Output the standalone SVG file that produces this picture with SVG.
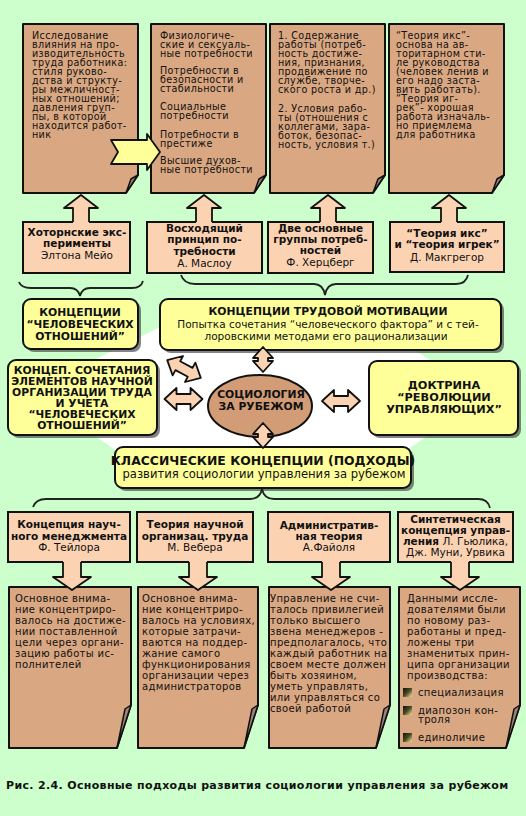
<svg xmlns="http://www.w3.org/2000/svg" width="526" height="816" viewBox="0 0 526 816">
<defs>
<style>
text{font-family:"DejaVu Sans",Verdana,sans-serif;fill:#111}
.n{font-size:10px;letter-spacing:0.35px}
.t{font-size:9.6px;letter-spacing:0.35px}
.b{font-size:10.5px;font-weight:bold}
.l{font-size:10.5px}
.y{font-size:10.8px;font-weight:bold}
.c{text-anchor:middle}
.note{fill:#d9a781;stroke:#111;stroke-width:2;stroke-linejoin:round}
.fold{fill:#a0827b;stroke:#111;stroke-width:1.5;stroke-linejoin:round}
.lab{fill:#fcd3b2;stroke:#111;stroke-width:2}
.yel{fill:#ffff99;stroke:#111;stroke-width:2}
.sh{fill:#333;opacity:.6}
.ar{fill:#fcd3b2;stroke:#111;stroke-width:1.8;stroke-linejoin:round}
.arf{fill:#fcd3b2;stroke:none}
.aro{fill:none;stroke:#111;stroke-width:1.8;stroke-linejoin:round}
.brace{fill:none;stroke:#222;stroke-width:1.8}
</style>
<path id="dblH" d="M-19,0 L-7,-11 L-7,-5 L7,-5 L7,-11 L19,0 L7,11 L7,5 L-7,5 L-7,11 Z"/>
<path id="dblV" d="M0,-12.5 L10,-1.5 L5,-1.5 L5,1.5 L10,1.5 L0,12.5 L-10,1.5 L-5,1.5 L-5,-1.5 L-10,-1.5 Z"/>
<linearGradient id="bul" x1="0" y1="0" x2="1" y2="1">
<stop offset="0" stop-color="#111"/><stop offset="0.5" stop-color="#4a4a20"/><stop offset="1" stop-color="#f0e6a0"/>
</linearGradient>
</defs>
<rect width="526" height="816" fill="#ccffcc"/>

<!-- white background octagon -->
<polygon points="170,322 373,322 485,397 392,460 130,460 50,405 50,382" fill="#fff"/>

<!-- top notes -->
<g id="note1">
<path class="note" d="M23,24 H138 V175 L126,193 H23 Z"/>
<path class="fold" d="M138,175 L131,179 L126,193 Z"/>
<text class="t"><tspan x="32" y="39">Исследование</tspan><tspan x="32" y="48">влияния на про-</tspan><tspan x="32" y="57">изводительность</tspan><tspan x="32" y="66">труда работника:</tspan><tspan x="32" y="75">стиля руково-</tspan><tspan x="32" y="84">дства и структу-</tspan><tspan x="32" y="93">ры межличност-</tspan><tspan x="32" y="102">ных отношений;</tspan><tspan x="32" y="111">давления груп-</tspan><tspan x="32" y="120">пы, в которой</tspan><tspan x="32" y="129">находится работ-</tspan><tspan x="32" y="138">ник</tspan></text>
</g>
<g id="note2">
<path class="note" d="M151,24 H266 V175 L254,193 H151 Z"/>
<path class="fold" d="M266,175 L259,179 L254,193 Z"/>
<text class="t"><tspan x="160" y="39">Физиологиче-</tspan><tspan x="160" y="48">ские и сексуаль-</tspan><tspan x="160" y="57">ные потребности</tspan><tspan x="160" y="74">Потребности в</tspan><tspan x="160" y="83">безопасности и</tspan><tspan x="160" y="92">стабильности</tspan><tspan x="160" y="110">Социальные</tspan><tspan x="160" y="119">потребности</tspan><tspan x="160" y="138">Потребности в</tspan><tspan x="160" y="147">престиже</tspan><tspan x="160" y="164">Высшие  духов-</tspan><tspan x="160" y="173">ные  потребности</tspan></text>
</g>
<g id="note3">
<path class="note" d="M270,24 H385 V175 L373,193 H270 Z"/>
<path class="fold" d="M385,175 L378,179 L373,193 Z"/>
<text class="t"><tspan x="278" y="39">1. Содержание</tspan><tspan x="278" y="48">работы (потреб-</tspan><tspan x="278" y="57">ность достиже-</tspan><tspan x="278" y="66">ния, признания,</tspan><tspan x="278" y="75">продвижение по</tspan><tspan x="278" y="84">службе, творче-</tspan><tspan x="278" y="93">ского роста и др.)</tspan><tspan x="278" y="112">2. Условия рабо-</tspan><tspan x="278" y="121">ты (отношения с</tspan><tspan x="278" y="130">коллегами, зара-</tspan><tspan x="278" y="139">боток, безопас-</tspan><tspan x="278" y="148">ность, условия т.)</tspan></text>
</g>
<g id="note4">
<path class="note" d="M389,24 H504 V175 L492,193 H389 Z"/>
<path class="fold" d="M504,175 L497,179 L492,193 Z"/>
<text class="t"><tspan x="396" y="39">“Теория икс”-</tspan><tspan x="396" y="48">основа на ав-</tspan><tspan x="396" y="57">торитарном сти-</tspan><tspan x="396" y="66">ле руководства</tspan><tspan x="396" y="75">(человек ленив и</tspan><tspan x="396" y="84">его надо заста-</tspan><tspan x="396" y="93">вить работать).</tspan><tspan x="396" y="102">“Теория иг-</tspan><tspan x="396" y="111">рек”- хорошая</tspan><tspan x="396" y="120">работа изначаль-</tspan><tspan x="396" y="129">но приемлема</tspan><tspan x="396" y="138">для работника</tspan></text>
</g>

<!-- label boxes top -->
<g id="label1">
<rect class="lab" x="23" y="222" width="107" height="51"/>
<text class="b c"><tspan x="77" y="236">Хоторнские экс-</tspan><tspan x="77" y="247">перименты</tspan></text>
<text class="l c" x="77" y="259">Элтона Мейо</text>
</g>
<g id="label2">
<rect class="lab" x="147" y="222" width="115" height="51"/>
<text class="b c"><tspan x="204.5" y="232">Восходящий</tspan><tspan x="204.5" y="243">принцип по-</tspan><tspan x="204.5" y="255">требности</tspan></text>
<text class="l c" x="204.5" y="267">А. Маслоу</text>
</g>
<g id="label3">
<rect class="lab" x="268" y="222" width="105" height="51"/>
<text class="b c"><tspan x="320.5" y="232">Две основные</tspan><tspan x="320.5" y="243">группы потреб-</tspan><tspan x="320.5" y="254">ностей</tspan></text>
<text class="l c" x="320.5" y="266">Ф. Херцберг</text>
</g>
<g id="label4">
<rect class="lab" x="390" y="222" width="114" height="50"/>
<text class="b c"><tspan x="447" y="237">“Теория икс”</tspan><tspan x="447" y="248">и “теория игрек”</tspan></text>
<text class="l c" x="447" y="261">Д. Макгрегор</text>
</g>

<!-- yellow concept boxes -->
<g id="human">
<rect class="sh" x="26" y="302" width="115" height="50" rx="8"/>
<rect class="yel" x="23" y="299" width="115" height="50" rx="8"/>
<text class="y c"><tspan x="80" y="316">КОНЦЕПЦИИ</tspan><tspan x="80" y="328">“ЧЕЛОВЕЧЕСКИХ</tspan><tspan x="80" y="340">ОТНОШЕНИЙ”</tspan></text>
</g>
<g id="motivation">
<rect class="sh" x="163" y="302" width="341" height="51" rx="8"/>
<rect class="yel" x="160" y="299" width="341" height="51" rx="8"/>
<text class="y c" x="328" y="315">КОНЦЕПЦИИ ТРУДОВОЙ МОТИВАЦИИ</text>
<text class="l c"><tspan x="328" y="328">Попытка сочетания “человеческого фактора” и с тей-</tspan><tspan x="326" y="340">лоровскими методами его рационализации</tspan></text>
</g>
<g id="combined">
<rect class="sh" x="11" y="363" width="149" height="75" rx="8"/>
<rect class="yel" x="8" y="360" width="149" height="75" rx="8"/>
<text class="y c"><tspan x="82" y="374">КОНЦЕП. СОЧЕТАНИЯ</tspan><tspan x="82" y="385">ЭЛЕМЕНТОВ НАУЧНОЙ</tspan><tspan x="82" y="396">ОРГАНИЗАЦИИ ТРУДА</tspan><tspan x="82" y="407">И УЧЕТА</tspan><tspan x="82" y="418">“ЧЕЛОВЕЧЕСКИХ</tspan><tspan x="82" y="429">ОТНОШЕНИЙ”</tspan></text>
</g>
<g id="doctrine">
<rect class="sh" x="372" y="364" width="149" height="74" rx="8"/>
<rect class="yel" x="369" y="361" width="149" height="74" rx="8"/>
<text class="y c" style="font-size:11.3px"><tspan x="444" y="389">ДОКТРИНА</tspan><tspan x="444" y="401">“РЕВОЛЮЦИИ</tspan><tspan x="444" y="413">УПРАВЛЯЮЩИХ”</tspan></text>
</g>
<g id="classic">
<rect class="sh" x="118" y="450" width="296" height="41" rx="8"/>
<rect class="yel" x="115" y="447" width="296" height="41" rx="8"/>
<text class="c" x="263" y="465" style="font-size:12.4px;font-weight:bold">КЛАССИЧЕСКИЕ КОНЦЕПЦИИ (ПОДХОДЫ)</text>
<text class="c" x="264" y="478" style="font-size:11.6px">развития социологии управления за рубежом</text>
</g>
<g id="center">
<ellipse cx="260" cy="406" rx="52" ry="31" fill="#d29c76" stroke="#111" stroke-width="2"/>
<text class="c" x="261" y="398" style="font-size:10.8px;font-weight:bold">СОЦИОЛОГИЯ</text>
<text class="c" x="261" y="410" style="font-size:10.8px;font-weight:bold">ЗА РУБЕЖОМ</text>
</g>

<!-- bottom label boxes -->
<g id="taylor">
<rect class="lab" x="8" y="512" width="122" height="50"/>
<text class="b c"><tspan x="69" y="528">Концепция науч-</tspan><tspan x="69" y="540">ного менеджмента</tspan></text>
<text class="l c" x="69" y="551">Ф. Тейлора</text>
</g>
<g id="weber">
<rect class="lab" x="137" y="512" width="116" height="50"/>
<text class="b c"><tspan x="195" y="528">Теория научной</tspan><tspan x="195" y="540">организац. труда</tspan></text>
<text class="l c" x="195" y="551">М. Вебера</text>
</g>
<g id="fayol">
<rect class="lab" x="268" y="512" width="122" height="50"/>
<text class="b c"><tspan x="329" y="529">Административ-</tspan><tspan x="329" y="540">ная теория</tspan></text>
<text class="l c" x="329" y="551">А.Файоля</text>
</g>
<g id="gulick">
<rect class="lab" x="398" y="512" width="115" height="50"/>
<text class="b c"><tspan x="455.5" y="523">Синтетическая</tspan><tspan x="455.5" y="534">концепция управ-</tspan></text>
<text class="l c" x="455.5" y="545"><tspan style="font-weight:bold">ления</tspan> Л. Гьюлика,</text>
<text class="l c" x="455.5" y="556">Дж. Муни, Урвика</text>
</g>

<!-- bottom notes -->
<g id="note5">
<path class="note" d="M9,587 H131 V705 L117,748 H9 Z"/>
<path class="fold" d="M131,705 L125,709 L117,748 Z"/>
<text class="n"><tspan x="15" y="601.5">Основное внима-</tspan><tspan x="15" y="612.5">ние концентриро-</tspan><tspan x="15" y="623.5">валось на достиже-</tspan><tspan x="15" y="634.5">нии поставленной</tspan><tspan x="15" y="645.5">цели через органи-</tspan><tspan x="15" y="656.5">зацию работы ис-</tspan><tspan x="15" y="667.5">полнителей</tspan></text>
</g>
<g id="note6">
<path class="note" d="M138,587 H258 V705 L244,748 H138 Z"/>
<path class="fold" d="M258,705 L252,709 L244,748 Z"/>
<text class="n"><tspan x="142" y="601.5">Основное внима-</tspan><tspan x="142" y="612.5">ние концентриро-</tspan><tspan x="142" y="623.5">валось на условиях,</tspan><tspan x="142" y="634.5">которые затрачи-</tspan><tspan x="142" y="645.5">ваются на поддер-</tspan><tspan x="142" y="656.5">жание самого</tspan><tspan x="142" y="667.5">функционирования</tspan><tspan x="142" y="678.5">организации через</tspan><tspan x="142" y="689.5">администраторов</tspan></text>
</g>
<g id="note7">
<path class="note" d="M269,587 H390 V705 L376,748 H269 Z"/>
<path class="fold" d="M390,705 L384,709 L376,748 Z"/>
<text class="n"><tspan x="270" y="601.5">Управление не счи-</tspan><tspan x="270" y="612.5">талось привилегией</tspan><tspan x="270" y="623.5">только высшего</tspan><tspan x="270" y="634.5">звена менеджеров -</tspan><tspan x="270" y="645.5">предполагалось, что</tspan><tspan x="270" y="656.5">каждый работник на</tspan><tspan x="270" y="667.5">своем месте должен</tspan><tspan x="270" y="678.5">быть хозяином,</tspan><tspan x="270" y="689.5">уметь управлять,</tspan><tspan x="270" y="700.5">или управляться со</tspan><tspan x="270" y="711.5">своей работой</tspan></text>
</g>
<g id="note8">
<path class="note" d="M399,587 H520 V705 L506,748 H399 Z"/>
<path class="fold" d="M520,705 L514,709 L506,748 Z"/>
<text class="n"><tspan x="407" y="601.5">Данными иссле-</tspan><tspan x="407" y="612.5">дователями были</tspan><tspan x="407" y="623.5">по новому раз-</tspan><tspan x="407" y="634.5">работаны и пред-</tspan><tspan x="407" y="645.5">ложены  три</tspan><tspan x="407" y="656.5">знаменитых прин-</tspan><tspan x="407" y="667.5">ципа организации</tspan><tspan x="407" y="678.5">производства:</tspan></text>
<rect x="403" y="688" width="9" height="9" fill="url(#bul)"/>
<rect x="403" y="706" width="9" height="9" fill="url(#bul)"/>
<rect x="403" y="733" width="9" height="9" fill="url(#bul)"/>
<text class="n"><tspan x="418" y="696">специализация</tspan><tspan x="418" y="714">диапозон кон-</tspan><tspan x="418" y="723">троля</tspan><tspan x="418" y="741">единоличие</tspan></text>
</g>

<!-- connectors -->
<g id="connectors">
<path d="M111,140 H147 V134 L160,152 L147,170 V164 H111 L118,152 Z" fill="#ffff99" stroke="#111" stroke-width="1.8" stroke-linejoin="round"/>
<!-- up arrows -->
<path class="arf" d="M73,223 V208 H64 L81,195 L98,208 H89 V223 Z"/>
<path class="aro" d="M73,222 V208 H64 L81,195 L98,208 H89 V222"/>
<path class="arf" d="M196,223 V208 H187 L204,195 L221,208 H212 V223 Z"/>
<path class="aro" d="M196,222 V208 H187 L204,195 L221,208 H212 V222"/>
<path class="arf" d="M320,223 V208 H311 L328,195 L345,208 H336 V223 Z"/>
<path class="aro" d="M320,222 V208 H311 L328,195 L345,208 H336 V222"/>
<path class="arf" d="M441,223 V208 H432 L449,195 L466,208 H457 V223 Z"/>
<path class="aro" d="M441,222 V208 H432 L449,195 L466,208 H457 V222"/>
<!-- braces -->
<path class="brace" d="M19,282 Q21,288 31,288 H70 Q78,288 80,296 Q82,288 90,288 H132 Q141,288 143,281"/>
<path class="brace" d="M181,275 Q184,284 195,284 H314 Q323,284 325,295 Q327,284 336,284 H456 Q466,284 468,275"/>
<path class="brace" d="M33,507 Q36,499 46,499 H250 Q260,499 262,489 Q264,499 274,499 H478 Q488,499 490,508"/>
<!-- double arrows -->
<use href="#dblV" class="ar" transform="translate(263,359.5)"/>
<use href="#dblV" class="ar" transform="translate(263,435.5)"/>
<use href="#dblH" class="ar" transform="translate(183.5,399)"/>
<use href="#dblH" class="ar" transform="translate(341,401)"/>
<use href="#dblH" class="ar" transform="translate(184,369) rotate(28)"/>
<!-- down arrows -->
<path class="arf" d="M63,561 V577 H53 L72,590 L91,577 H81 V561 Z"/>
<path class="aro" d="M63,562 V577 H53 L72,590 L91,577 H81 V562"/>
<path class="arf" d="M189,561 V577 H179 L198,590 L217,577 H207 V561 Z"/>
<path class="aro" d="M189,562 V577 H179 L198,590 L217,577 H207 V562"/>
<path class="arf" d="M322,561 V577 H312 L331,590 L350,577 H340 V561 Z"/>
<path class="aro" d="M322,562 V577 H312 L331,590 L350,577 H340 V562"/>
<path class="arf" d="M451,561 V577 H441 L460,590 L479,577 H469 V561 Z"/>
<path class="aro" d="M451,562 V577 H441 L460,590 L479,577 H469 V562"/>
</g>

<text x="6" y="789" style="font-size:11px;font-weight:bold;letter-spacing:0.34px">Рис. 2.4. Основные подходы развития социологии управления за рубежом</text>
</svg>
